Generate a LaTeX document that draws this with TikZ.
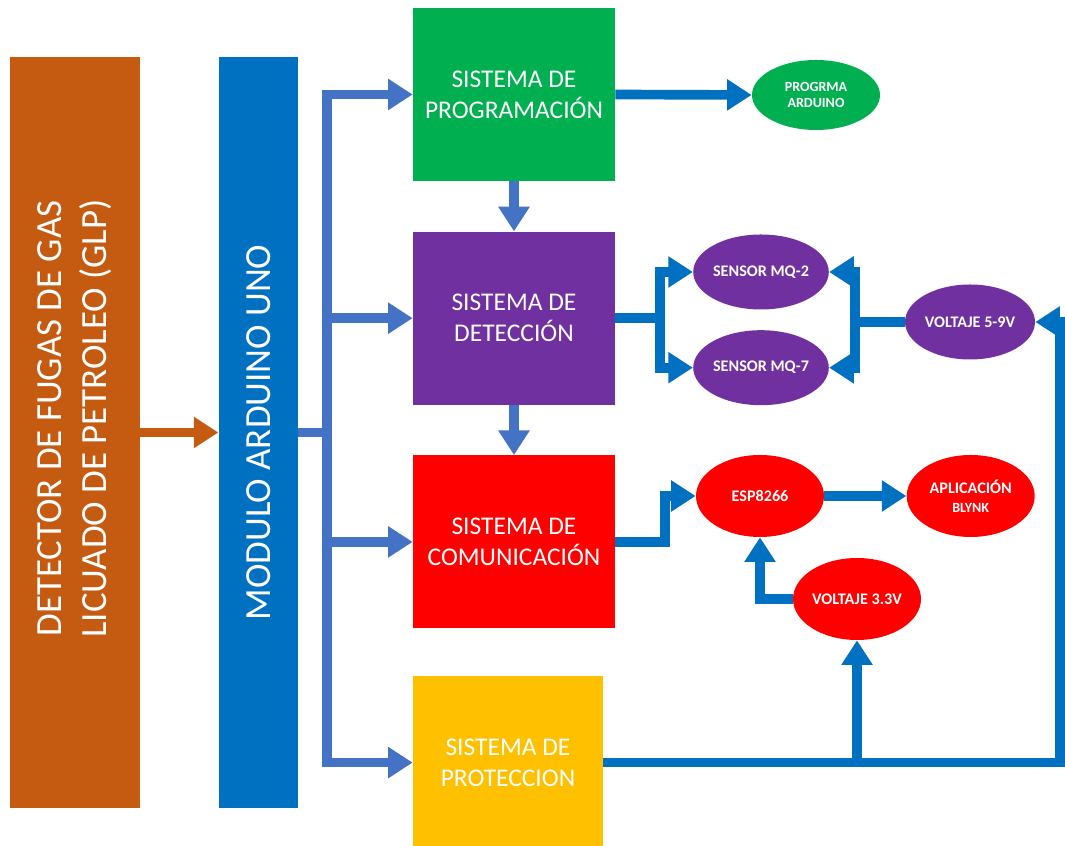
\documentclass[tikz,border=0pt]{standalone}
\usepackage{fontspec}
\setmainfont{Carlito}
\usepackage{tikz}
\usetikzlibrary{shapes.geometric, arrows.meta, positioning}
\usepackage{xcolor}
\definecolor{glporange}{HTML}{C55A11}
\definecolor{ardblue}{HTML}{0070C0}
\definecolor{busblue}{HTML}{4472C4}
\definecolor{proggreen}{HTML}{00B050}
\definecolor{detpurple}{HTML}{7030A0}
\definecolor{comred}{HTML}{FF0000}
\definecolor{protyellow}{HTML}{FFC000}

\begin{document}
\begin{tikzpicture}[
    column/.style={rectangle, minimum height=15.02cm, inner sep=0pt, text=white, font=\fontsize{21}{26}\selectfont},
    block/.style={rectangle, minimum width=4.04cm, minimum height=3.46cm, inner sep=0pt, align=center, text=white, font=\fontsize{14.5}{17.5}\selectfont},
    part/.style={ellipse, minimum width=2.56cm, minimum height=1.5cm, inner sep=0pt, align=center, text=white, font=\bfseries\fontsize{9.2}{11}\selectfont},
    arrow/.style={-{Triangle[width=17pt,length=14pt]}, line width=5.5pt, draw=ardblue},
    busarrow/.style={arrow, draw=busblue},
    wire/.style={line width=5.5pt, draw=ardblue},
    buswire/.style={wire, draw=busblue}
]
    \useasboundingbox (0,0) rectangle (21.3,16.92);

    % left columns
    \node[column, fill=glporange, minimum width=2.6cm] (glp) at (1.5,8.27)
        {\rotatebox{90}{\hspace{0.56cm}\begin{tabular}{@{}c@{}}DETECTOR DE FUGAS DE GAS\\LICUADO DE PETROLEO (GLP)\end{tabular}}};
    \node[column, fill=ardblue, minimum width=1.58cm, right=1.56cm of glp] (ard)
        {\rotatebox{90}{MODULO ARDUINO UNO}};

    % systems
    \node[block, fill=proggreen] (prog) at (10.28,15.03) {SISTEMA DE\\PROGRAMACIÓN};
    \node[block, fill=detpurple, below=1cm of prog] (det) {SISTEMA DE\\DETECCIÓN};
    \node[block, fill=comred, below=1cm of det] (com) {SISTEMA DE\\COMUNICACIÓN};
    \node[block, fill=protyellow, minimum width=3.8cm, below=0.94cm of com.south west, anchor=north west] (prot) {SISTEMA DE\\PROTECCION};

    % parts
    \node[part, fill=proggreen, minimum height=1.4cm, font=\bfseries\fontsize{8}{9.5}\selectfont] (code) at (16.32,15.02) {PROGRMA\\ARDUINO};
    \node[part, fill=detpurple] (mq2) at (15.22,11.48) {SENSOR MQ-2};
    \node[part, fill=detpurple, below=0.4cm of mq2] (mq7) {SENSOR MQ-7};
    \node[part, fill=detpurple, minimum width=2.6cm] (v59) at (19.4,10.48) {VOLTAJE 5-9V};
    \node[part, fill=comred, minimum height=1.64cm] (esp) at (15.2,7.0) {ESP8266};
    \node[part, fill=comred, minimum height=1.64cm, right=1.64cm of esp] (blynk) {APLICACIÓN\\{\fontsize{8}{9.5}\selectfont BLYNK}};
    \node[part, fill=comred, minimum height=1.64cm] (v33) at (17.14,4.94) {VOLTAJE 3.3V};

    \coordinate (bus) at (6.54,0);
    \coordinate (dsplit) at (13.2,0);
    \coordinate (vsplit) at (17.1,0);
    \coordinate (csplit) at (13.3,0);
    \coordinate (redge) at (21.2,0);

    \draw[arrow, draw=glporange] (glp) -- (ard);

    % arduino bus
    \draw[buswire] (ard.east) -- (bus |- ard.east);
    \draw[busarrow] (bus |- prot.west) -- (bus |- prog.west) -- (prog.west);
    \draw[busarrow] (bus |- prog.west) -- (bus |- prot.west) -- (prot.west);
    \draw[busarrow] (bus |- det.west) -- (det.west);
    \draw[busarrow] (bus |- com.west) -- (com.west);
    \draw[busarrow] (prog) -- (det);
    \draw[busarrow] (det) -- (com);

    \draw[arrow] (prog.east) -- (code.west);

    % sensors
    \draw[wire] (det.east) -- (dsplit |- det.east);
    \draw[arrow] (dsplit |- mq7) -- (dsplit |- mq2) -- (mq2.west);
    \draw[arrow] (dsplit |- mq2) -- (dsplit |- mq7) -- (mq7.west);
    \draw[wire] (v59.west) -- (vsplit |- v59.west);
    \draw[arrow] (vsplit |- mq7) -- (vsplit |- mq2) -- (mq2.east);
    \draw[arrow] (vsplit |- mq2) -- (vsplit |- mq7) -- (mq7.east);

    % wifi
    \draw[arrow] (com.east) -- (csplit |- com.east) -- (csplit |- esp) -- (esp.west);
    \draw[arrow] (esp) -- (blynk);
    \draw[arrow] (v33.west) -| (esp.south);

    % supply
    \draw[arrow] (prot.east) -- (redge |- prot.east) -- (redge |- v59.east) -- (v59.east);
    \draw[arrow] (v33.south |- prot.east) -- (v33.south);
\end{tikzpicture}
\end{document}
